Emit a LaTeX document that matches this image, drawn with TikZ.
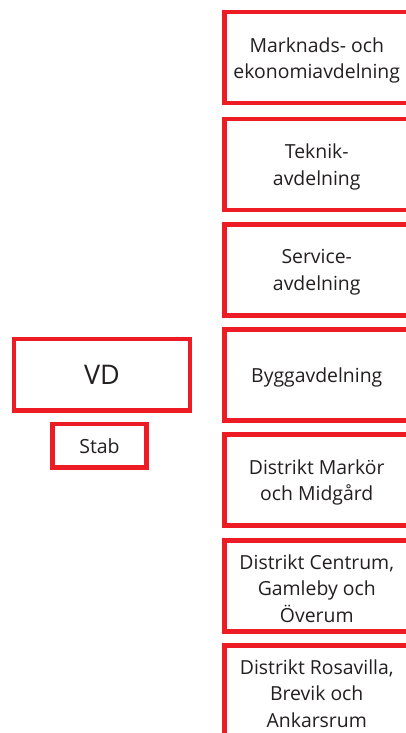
\documentclass[tikz,border=0pt]{standalone}
\usepackage{fontspec}
\setmainfont{Open Sans}
\definecolor{boxred}{HTML}{ED1C24}
\definecolor{txt}{HTML}{231F20}
\begin{document}
\begin{tikzpicture}[x=1pt,y=-1pt,
  redbox/.style={draw=boxred,line width=4.5pt,inner sep=0pt},
  unit/.style={redbox,minimum width=184.5pt,minimum height=91pt,
    label={[unittext]center:#1}},
  unittext/.style={align=center,text=txt,font=\fontsize{19.4}{26.5}\selectfont,inner sep=0pt,yshift=-2.5pt},
  vdbox/.style={redbox,minimum width=176pt,minimum height=71.5pt,
    text=txt,font=\fontsize{27}{30}\selectfont},
  stabbox/.style={redbox,minimum width=94pt,minimum height=43.5pt,
    text=txt,font=\fontsize{19.5}{22}\selectfont}]
\useasboundingbox (0,0) rectangle (406,733);
\clip (0,0) rectangle (406,733);
\fill[white] (0,0) rectangle (406,733);
\node[vdbox] (vd) at (102,374.75) {\raisebox{-2pt}{VD}};
\node[stabbox] (stab) at (99.5,445.75) {\raisebox{-1pt}{Stab}};
\node[unit={Marknads- och\\ekonomiavdelning}] (u1) at (316.75,57.75) {};
\node[unit={Teknik-\\avdelning}] (u2) at (316.75,164.5) {};
\node[unit={Service-\\avdelning}] (u3) at (316.75,269.75) {};
\node[unit={Byggavdelning}] (u4) at (316.75,375) {};
\node[unit={Distrikt Markör\\och Midgård}] (u5) at (316.75,480) {};
\node[unit={Distrikt Centrum,\\Gamleby och\\Överum}] (u6) at (316.75,586) {};
\node[unit={Distrikt Rosavilla,\\Brevik och\\Ankarsrum}] (u7) at (316.75,691) {};
\end{tikzpicture}
\end{document}
